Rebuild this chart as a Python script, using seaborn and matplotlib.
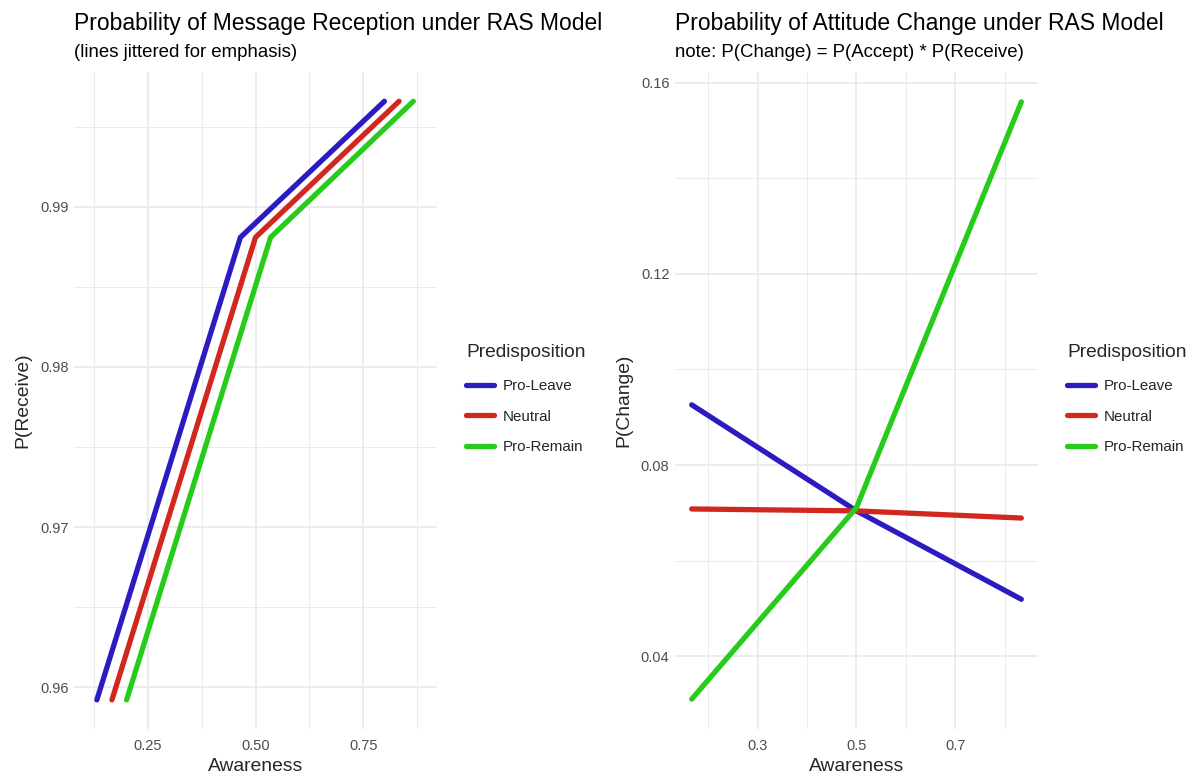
import numpy as np
import pandas as pd
import matplotlib
matplotlib.use("Agg")
import matplotlib.pyplot as plt
from matplotlib.ticker import FixedLocator
import seaborn as sns

# ---------------- data ----------------
groups = ["Pro-Leave", "Neutral", "Pro-Remain"]
colors = ["#2B1BC0", "#D1271F", "#27CC1B"]

# left panel (jittered awareness)
aware_leave_jit = [0.132, 0.465, 0.799]
aware_neutral_jit = [0.167, 0.500, 0.833]
aware_remain_jit = [0.201, 0.535, 0.866]
p_receive = [0.9592, 0.9881, 0.9966]

# right panel
awareness = [0.167, 0.500, 0.833]
p_change_leave = [0.0926, 0.0704, 0.0519]
p_change_neutral = [0.0708, 0.0704, 0.0689]
p_change_remain = [0.0310, 0.0711, 0.1560]

left_df = pd.DataFrame({
    "Awareness": aware_leave_jit + aware_neutral_jit + aware_remain_jit,
    "P(Receive)": p_receive * 3,
    "Predisposition": [g for g in groups for _ in range(3)],
})
right_df = pd.DataFrame({
    "Awareness": awareness * 3,
    "P(Change)": p_change_leave + p_change_neutral + p_change_remain,
    "Predisposition": [g for g in groups for _ in range(3)],
})

# ---------------- style ----------------
sns.set_style("white")
plt.rcParams["font.family"] = ["Liberation Sans", "DejaVu Sans"]

W, H = 1194, 777
fig = plt.figure(figsize=(W / 100, H / 100), dpi=100)

def px_axes(x0, x1, y0, y1):
    return fig.add_axes([x0 / W, 1 - y1 / H, (x1 - x0) / W, (y1 - y0) / H])

axL = px_axes(74, 437, 72, 729)
axR = px_axes(675, 1038, 72, 729)

palette = dict(zip(groups, colors))

sns.lineplot(data=left_df, x="Awareness", y="P(Receive)", hue="Predisposition",
             hue_order=groups, palette=palette, linewidth=3.8, sort=False,
             estimator=None, ax=axL)
sns.lineplot(data=right_df, x="Awareness", y="P(Change)", hue="Predisposition",
             hue_order=groups, palette=palette, linewidth=3.8, sort=False,
             estimator=None, ax=axR)

tick_color = "#4D4D4D"
grid_color = "#EBEBEB"

def style(ax):
    for s in ax.spines.values():
        s.set_visible(False)
    ax.tick_params(axis="both", which="both", length=0, labelsize=10.5,
                   labelcolor=tick_color)
    ax.tick_params(axis="x", pad=7)
    ax.tick_params(axis="y", pad=4)
    ax.grid(which="major", color=grid_color, linewidth=1.3)
    ax.grid(which="minor", color=grid_color, linewidth=0.7)
    ax.set_axisbelow(True)
    ax.xaxis.label.set_size(13.9)
    ax.yaxis.label.set_size(13.9)
    ax.xaxis.labelpad = 4
    ax.yaxis.labelpad = 6

# left axes scales
axL.set_xlim(0.079, 0.921)
axL.set_ylim(0.95738, 0.99843)
axL.xaxis.set_major_locator(FixedLocator([0.25, 0.50, 0.75]))
axL.xaxis.set_minor_locator(FixedLocator([0.125, 0.375, 0.625, 0.875]))
axL.yaxis.set_major_locator(FixedLocator([0.96, 0.97, 0.98, 0.99]))
axL.yaxis.set_minor_locator(FixedLocator([0.965, 0.975, 0.985, 0.995]))
axL.set_xticklabels(["0.25", "0.50", "0.75"])
axL.set_yticklabels(["0.96", "0.97", "0.98", "0.99"])
style(axL)

axR.set_xlim(0.1333, 0.8667)
axR.set_ylim(0.02475, 0.16225)
axR.xaxis.set_major_locator(FixedLocator([0.3, 0.5, 0.7]))
axR.xaxis.set_minor_locator(FixedLocator([0.2, 0.4, 0.6, 0.8]))
axR.yaxis.set_major_locator(FixedLocator([0.04, 0.08, 0.12, 0.16]))
axR.yaxis.set_minor_locator(FixedLocator([0.06, 0.10, 0.14]))
axR.set_xticklabels(["0.3", "0.5", "0.7"])
axR.set_yticklabels(["0.04", "0.08", "0.12", "0.16"])
style(axR)

# titles
for ax, title, sub in [
    (axL, "Probability of Message Reception under RAS Model", "(lines jittered for emphasis)"),
    (axR, "Probability of Attitude Change under RAS Model", "note: P(Change) = P(Accept) * P(Receive)"),
]:
    bb = ax.get_position()
    fig.text(bb.x0, 1 - 30 / H, title, fontsize=16.5, ha="left", va="baseline", color="black")
    fig.text(bb.x0, 1 - 57 / H, sub, fontsize=13.4, ha="left", va="baseline", color="black")

# legends
for ax, lx in [(axL, 466), (axR, 1067)]:
    handles, labels = ax.get_legend_handles_labels()
    if ax.legend_:
        ax.legend_.remove()
    leg = ax.legend(handles, labels, title="Predisposition", loc="center left",
                    bbox_to_anchor=(lx / W, 1 - 399 / H), bbox_transform=fig.transFigure,
                    frameon=False, fontsize=10.9, title_fontsize=13.8,
                    handlelength=1.85, handletextpad=0.55, labelspacing=1.1,
                    borderpad=0, borderaxespad=0, alignment="left")
    leg._legend_box.sep = 13
    for line in leg.get_lines():
        line.set_linewidth(3.8)

fig.savefig("out.png", dpi=100)
